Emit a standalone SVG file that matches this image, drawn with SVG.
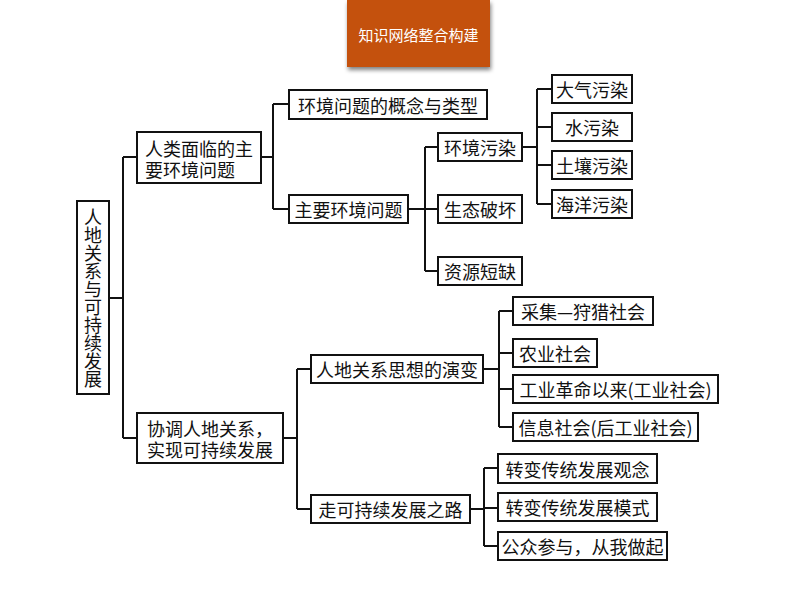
<svg xmlns="http://www.w3.org/2000/svg" width="794" height="596" viewBox="0 0 794 596">
<defs>
<filter id="sh" x="-10%" y="-10%" width="120%" height="140%">
<feGaussianBlur in="SourceAlpha" stdDeviation="2"/>
<feOffset dx="1" dy="3"/>
<feComponentTransfer><feFuncA type="linear" slope="0.5"/></feComponentTransfer>
<feMerge><feMergeNode/><feMergeNode in="SourceGraphic"/></feMerge>
</filter>
</defs>
<style>
.box{fill:#fff;stroke:#111;stroke-width:2}
.t{font-family:"Noto Sans CJK SC","Noto Sans",sans-serif;font-size:18px;fill:#111;dominant-baseline:central}
.c{text-anchor:middle}
.v{font-family:"Noto Sans CJK SC","Noto Sans",sans-serif;font-size:18px;fill:#111;writing-mode:vertical-rl;text-orientation:upright}
.ln{fill:none;stroke:#111;stroke-width:2}
.hd{font-family:"Noto Sans CJK SC","Noto Sans",sans-serif;font-size:15px;fill:#fff;text-anchor:middle;dominant-baseline:central}
</style>
<rect width="794" height="596" fill="#fff"/>
<g id="header">
<rect x="347" y="0" width="143" height="67" fill="#C4510F" filter="url(#sh)"/>
<text class="hd" x="418.5" y="34">知识网络整合构建</text>
</g>
<g id="connectors">
<path class="ln" d="M109,298H123M123,157V438M123,157H137M123,438H137"/>
<path class="ln" d="M261,157H273M273,104V209M273,104H289M273,209H289"/>
<path class="ln" d="M408,209H425M425,147V271M425,147H438M425,209H438M425,271H438"/>
<path class="ln" d="M522,147H537M537,89V204M537,89H552M537,127H552M537,165H552M537,204H552"/>
<path class="ln" d="M283,438H297M297,369V509M297,369H311M297,509H311"/>
<path class="ln" d="M483,369H499M499,311V427M499,311H513M499,353H513M499,389H513M499,427H513"/>
<path class="ln" d="M470,509H484M484,468V546M484,468H498M484,508H498M484,546H498"/>
</g>
<g id="root">
<rect class="box" x="77" y="201" width="32" height="193"/>
<text class="v" x="93" y="208">人地关系与可持续发展</text>
</g>
<g id="n-human-env">
<rect class="box" x="137" y="132" width="124" height="51"/>
<text class="t"><tspan x="145" y="148">人类面临的主</tspan><tspan x="145" y="169">要环境问题</tspan></text>
</g>
<g id="n-concept">
<rect class="box" x="289" y="90" width="198" height="29"/>
<text class="t c" x="388" y="104.5">环境问题的概念与类型</text>
</g>
<g id="n-main-env">
<rect class="box" x="289" y="195" width="119" height="28"/>
<text class="t c" x="348.5" y="209">主要环境问题</text>
</g>
<g id="n-pollution">
<rect class="box" x="438" y="133" width="84" height="28"/>
<text class="t c" x="480" y="147">环境污染</text>
</g>
<g id="n-eco">
<rect class="box" x="438" y="195" width="84" height="28"/>
<text class="t c" x="480" y="209">生态破坏</text>
</g>
<g id="n-resource">
<rect class="box" x="438" y="257" width="84" height="28"/>
<text class="t c" x="480" y="271">资源短缺</text>
</g>
<g id="n-air">
<rect class="box" x="552" y="75" width="80" height="28"/>
<text class="t c" x="592" y="89">大气污染</text>
</g>
<g id="n-water">
<rect class="box" x="552" y="113" width="80" height="28"/>
<text class="t c" x="592" y="127">水污染</text>
</g>
<g id="n-soil">
<rect class="box" x="552" y="151" width="80" height="28"/>
<text class="t c" x="592" y="165">土壤污染</text>
</g>
<g id="n-ocean">
<rect class="box" x="552" y="190" width="80" height="28"/>
<text class="t c" x="592" y="204">海洋污染</text>
</g>
<g id="n-coord">
<rect class="box" x="137" y="413" width="146" height="50"/>
<text class="t"><tspan x="147" y="428">协调人地关系，</tspan><tspan x="147" y="449">实现可持续发展</tspan></text>
</g>
<g id="n-evolution">
<rect class="box" x="311" y="355" width="172" height="28"/>
<text class="t c" x="397" y="369">人地关系思想的演变</text>
</g>
<g id="n-hunt">
<rect class="box" x="513" y="297" width="140" height="28"/>
<text class="t c" x="583" y="311">采集—狩猎社会</text>
</g>
<g id="n-agri">
<rect class="box" x="513" y="339" width="84" height="28"/>
<text class="t c" x="555" y="353">农业社会</text>
</g>
<g id="n-industry">
<rect class="box" x="513" y="375" width="205" height="28"/>
<text class="t c" x="615.5" y="389">工业革命以来(工业社会)</text>
</g>
<g id="n-info">
<rect class="box" x="513" y="413" width="185" height="28"/>
<text class="t c" x="605.5" y="427">信息社会(后工业社会)</text>
</g>
<g id="n-road">
<rect class="box" x="311" y="495" width="159" height="28"/>
<text class="t c" x="390.5" y="509">走可持续发展之路</text>
</g>
<g id="n-idea">
<rect class="box" x="498" y="454" width="159" height="29"/>
<text class="t c" x="577.5" y="468.5">转变传统发展观念</text>
</g>
<g id="n-mode">
<rect class="box" x="498" y="493" width="159" height="28"/>
<text class="t c" x="577.5" y="507">转变传统发展模式</text>
</g>
<g id="n-public">
<rect class="box" x="498" y="532" width="169" height="28"/>
<text class="t c" x="582.5" y="546">公众参与，从我做起</text>
</g>
</svg>
